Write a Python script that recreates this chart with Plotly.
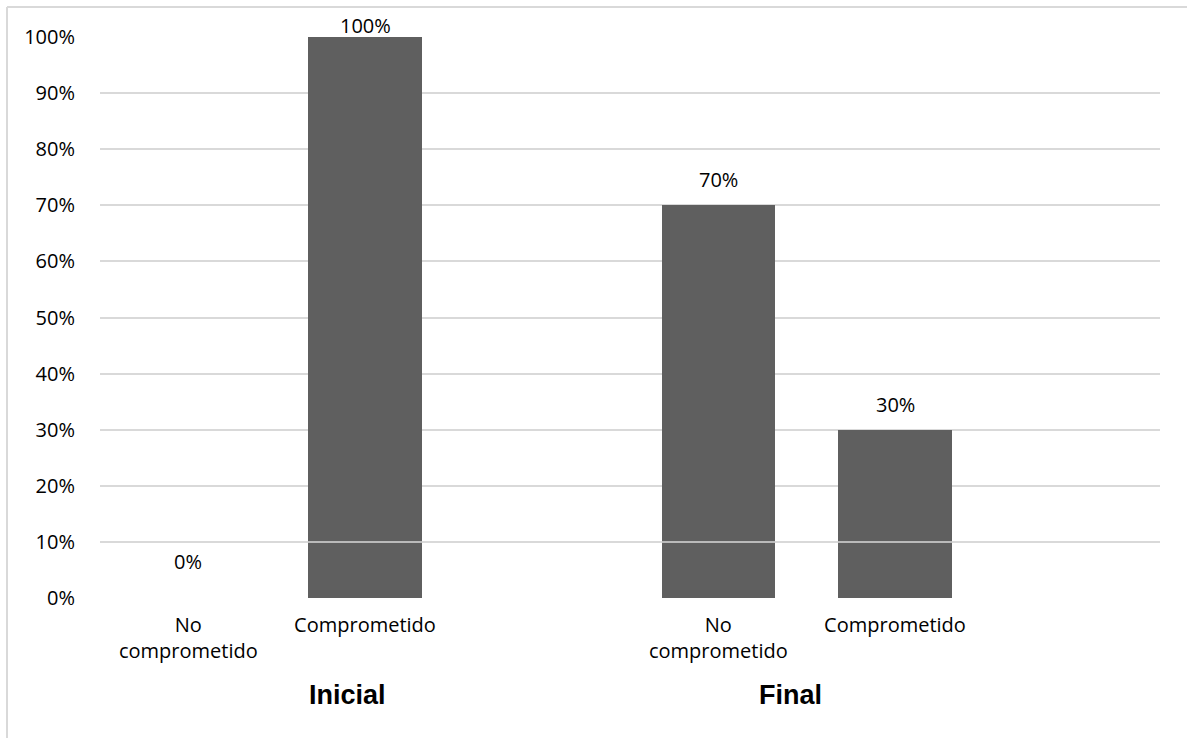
import plotly.graph_objects as go

# ---- data ----
groups = ["Inicial", "Final"]
categories = ["No<br>comprometido", "Comprometido"]
values_inicial = [0.0, 1.0]
values_final = [0.70, 0.30]
y_ticks = [0, 0.1, 0.2, 0.3, 0.4, 0.5, 0.6, 0.7, 0.8, 0.9, 1.0]
y_tick_labels = ["0%", "10%", "20%", "30%", "40%", "50%", "60%", "70%", "80%", "90%", "100%"]

BAR = "#5f5f5f"
GRID = "#d9d9d9"
TXT = "#000000"
FONT = "Open Sans"
FS = 20

# slots: each group occupies 3 slots (2 categories + 1 blank)
xs, ys, ticktext = [], [], []
all_vals = [values_inicial, values_final]
for gi, vals in enumerate(all_vals):
    for ci, v in enumerate(vals):
        xs.append(gi * 3 + ci)
        ys.append(v)
        ticktext.append(categories[ci])

fig = go.Figure()
fig.add_trace(go.Bar(
    x=xs, y=ys, width=0.64,
    marker=dict(color=BAR, line=dict(width=0)),
    hoverinfo="skip",
))

# data labels
for x, v in zip(xs, ys):
    if v >= 1.0:
        shift = -4
    elif v <= 0:
        shift = 21
    else:
        shift = 10
    fig.add_annotation(
        x=x, y=v, text=f"{round(v*100)}%", showarrow=False,
        yanchor="bottom", yshift=shift,
        font=dict(family=FONT, size=FS, color=TXT),
    )

# group labels
group_pos = [0.9, 3.41]
for g, gx in zip(groups, group_pos):
    fig.add_annotation(
        x=gx, xref="x", y=0, yref="paper", yanchor="middle", yshift=-97,
        text=f"<b>{g}</b>", showarrow=False,
        font=dict(family="Liberation Sans", size=27, color=TXT),
    )

# 10% gridline drawn over bars (as in reference)
fig.add_shape(type="line", xref="paper", x0=0, x1=1, yref="y", y0=0.1, y1=0.1,
              line=dict(color=GRID, width=1.5), layer="above")

# outer frame (top and left)
W, H = 1187, 738
l, r, t, b = 100, 27, 37, 140
pw, ph = W - l - r, H - t - b
def px(xp):
    return (xp - l) / pw
def py(yp):
    return (H - b - yp) / ph
fig.add_shape(type="line", xref="paper", yref="paper",
              x0=px(7), x1=px(W + 5), y0=py(7), y1=py(7),
              line=dict(color=GRID, width=2), layer="below")
fig.add_shape(type="line", xref="paper", yref="paper",
              x0=px(7), x1=px(7), y0=py(7), y1=py(H + 5),
              line=dict(color=GRID, width=2), layer="below")

fig.update_layout(
    width=W, height=H,
    margin=dict(l=l, r=r, t=t, b=b),
    plot_bgcolor="white", paper_bgcolor="white",
    showlegend=False,
    bargap=0,
    font=dict(family=FONT, size=FS, color=TXT),
)
fig.update_xaxes(
    range=[-0.5, 5.5],
    tickmode="array", tickvals=xs, ticktext=ticktext,
    showgrid=False, zeroline=False, showline=False,
    ticks="outside", ticklen=9, tickcolor="rgba(0,0,0,0)",
    tickfont=dict(family=FONT, size=FS, color=TXT),
    fixedrange=True,
)
fig.update_yaxes(
    range=[0, 1.0],
    tickmode="array", tickvals=y_ticks, ticktext=y_tick_labels,
    showgrid=True, gridcolor=GRID, gridwidth=1.5,
    zeroline=False, showline=False,
    ticks="outside", ticklen=20, tickcolor="rgba(0,0,0,0)",
    tickfont=dict(family=FONT, size=FS, color=TXT),
    fixedrange=True,
)

fig.write_html(
    "out.html",
    config={"displayModeBar": False},
    post_script="document.body.style.margin='0';document.body.style.overflow='hidden';",
)
